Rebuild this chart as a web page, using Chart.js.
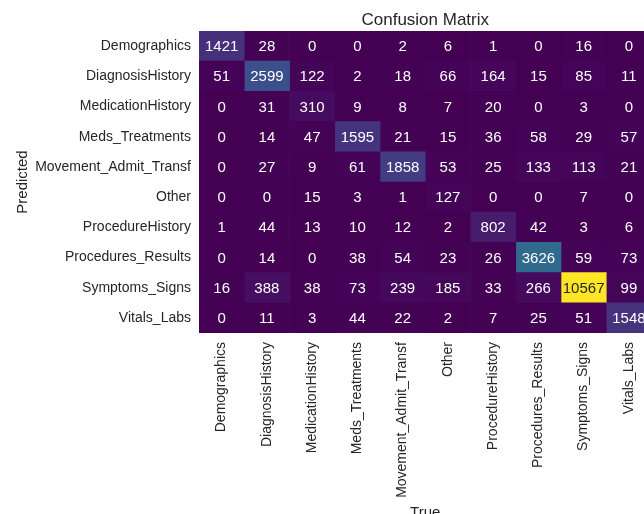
<!DOCTYPE html>
<html>
<head>
<meta charset="utf-8">
<script src="https://cdn.jsdelivr.net/npm/chart.js@4/dist/chart.umd.min.js"></script>
<style>
    html, body { margin: 0; padding: 0; background: #fff; overflow: hidden; }
    #wrap { width: 660px; height: 524px; }
</style>
</head>
<body>
<div id="wrap"><canvas id="myChart"></canvas></div>
<script>
var predictedLabels = ['Demographics', 'DiagnosisHistory', 'MedicationHistory', 'Meds_Treatments',
    'Movement_Admit_Transf', 'Other', 'ProcedureHistory', 'Procedures_Results', 'Symptoms_Signs', 'Vitals_Labs'];
var trueLabels = ['Demographics', 'DiagnosisHistory', 'MedicationHistory', 'Meds_Treatments',
    'Movement_Admit_Transf', 'Other', 'ProcedureHistory', 'Procedures_Results', 'Symptoms_Signs', 'Vitals_Labs'];

// one row per predicted class, columns follow trueLabels
var rowDemographics = [1421, 28, 0, 0, 2, 6, 1, 0, 16, 0];
var rowDiagnosisHistory = [51, 2599, 122, 2, 18, 66, 164, 15, 85, 11];
var rowMedicationHistory = [0, 31, 310, 9, 8, 7, 20, 0, 3, 0];
var rowMedsTreatments = [0, 14, 47, 1595, 21, 15, 36, 58, 29, 57];
var rowMovement = [0, 27, 9, 61, 1858, 53, 25, 133, 113, 21];
var rowOther = [0, 0, 15, 3, 1, 127, 0, 0, 7, 0];
var rowProcedureHistory = [1, 44, 13, 10, 12, 2, 802, 42, 3, 6];
var rowProceduresResults = [0, 14, 0, 38, 54, 23, 26, 3626, 59, 73];
var rowSymptomsSigns = [16, 388, 38, 73, 239, 185, 33, 266, 10567, 99];
var rowVitalsLabs = [0, 11, 3, 44, 22, 2, 7, 25, 51, 1548];

var matrix = [rowDemographics, rowDiagnosisHistory, rowMedicationHistory, rowMedsTreatments, rowMovement,
    rowOther, rowProcedureHistory, rowProceduresResults, rowSymptomsSigns, rowVitalsLabs];

var vmax = Math.max.apply(null, matrix.map(function(r) { return Math.max.apply(null, r); }));

var viridisStops = ['#440154', '#482475', '#414487', '#355f8d', '#2a788e', '#21918c',
    '#22a884', '#44bf70', '#7ad151', '#bddf26', '#fde725'];

function hexToRgb(h) {
    return [parseInt(h.substr(1, 2), 16), parseInt(h.substr(3, 2), 16), parseInt(h.substr(5, 2), 16)];
}

function viridis(t) {
    t = Math.max(0, Math.min(1, t));
    var pos = t * (viridisStops.length - 1);
    var i = Math.min(Math.floor(pos), viridisStops.length - 2);
    var f = pos - i;
    var a = hexToRgb(viridisStops[i]);
    var b = hexToRgb(viridisStops[i + 1]);
    return [0, 1, 2].map(function(k) { return Math.round(a[k] + (b[k] - a[k]) * f); });
}

function cellColor(v) {
    var c = viridis(v / vmax);
    return 'rgb(' + c.join(',') + ')';
}

function textColor(v) {
    var c = viridis(v / vmax).map(function(x) {
        x = x / 255;
        return x <= 0.03928 ? x / 12.92 : Math.pow((x + 0.055) / 1.055, 2.4);
    });
    var lum = 0.2126 * c[0] + 0.7152 * c[1] + 0.0722 * c[2];
    return lum > 0.408 ? '#262626' : '#ffffff';
}

var datasets = trueLabels.map(function(name, j) {
    return {
        label: name,
        data: predictedLabels.map(function() { return [j, j + 1]; }),
        backgroundColor: function(ctx) { return cellColor(matrix[ctx.dataIndex][j]); },
        borderWidth: 0,
        barPercentage: 1,
        categoryPercentage: 1
    };
});

var cellText = {
    id: 'cellText',
    afterDatasetsDraw: function(chart) {
        var ctx = chart.ctx;
        ctx.save();
        ctx.font = '15px "Liberation Sans", Arial, sans-serif';
        ctx.textAlign = 'center';
        ctx.textBaseline = 'middle';
        chart.data.datasets.forEach(function(ds, j) {
            chart.getDatasetMeta(j).data.forEach(function(bar, i) {
                var v = matrix[i][j];
                var p = bar.getCenterPoint();
                ctx.fillStyle = textColor(v);
                ctx.fillText(String(v), p.x, p.y + 1);
            });
        });
        ctx.restore();
    }
};

var font = '"Liberation Sans", Arial, sans-serif';
var ctx = document.getElementById('myChart');
var heatmap = new Chart(ctx, {
    type: 'bar',
    data: {
        labels: predictedLabels,
        datasets: datasets
    },
    options: {
        indexAxis: 'y',
        responsive: true,
        maintainAspectRatio: false,
        animation: false,
        layout: { padding: { left: 0, right: 8.5, top: 0, bottom: 0 } },
        plugins: {
            legend: { display: false },
            tooltip: { enabled: false }
        },
        scales: {
            x: {
                type: 'linear',
                position: 'bottom',
                min: 0,
                max: trueLabels.length,
                grid: { display: false, drawTicks: false },
                border: { display: false },
                afterBuildTicks: function(scale) {
                    scale.ticks = trueLabels.map(function(n, j) { return { value: j + 0.5 }; });
                },
                afterFit: function(scale) { scale.height = 191; },
                ticks: {
                    autoSkip: false,
                    minRotation: 90,
                    maxRotation: 90,
                    padding: 9,
                    color: '#262626',
                    font: { family: font, size: 14 },
                    callback: function(v, i) { return trueLabels[i]; }
                },
                title: {
                    display: true,
                    text: 'True',
                    color: '#262626',
                    font: { family: font, size: 15 },
                    padding: { top: 0, bottom: 2 }
                }
            },
            x2: {
                type: 'linear',
                position: 'top',
                grid: { display: false, drawTicks: false },
                border: { display: false },
                ticks: { display: false },
                afterFit: function(scale) { scale.height = 31; },
                title: {
                    display: true,
                    text: 'Confusion Matrix',
                    color: '#262626',
                    font: { family: font, size: 17 },
                    padding: { top: 10, bottom: 0 }
                }
            },
            y: {
                type: 'category',
                stacked: true,
                grid: { display: false, drawTicks: false },
                border: { display: false },
                afterFit: function(scale) { scale.width = 199; },
                ticks: {
                    padding: 8,
                    color: '#262626',
                    font: { family: font, size: 14 }
                },
                title: {
                    display: true,
                    text: 'Predicted',
                    color: '#262626',
                    font: { family: font, size: 15 },
                    padding: { top: 14, bottom: 0 }
                }
            }
        }
    },
    plugins: [cellText]
});
</script>
</body>
</html>
